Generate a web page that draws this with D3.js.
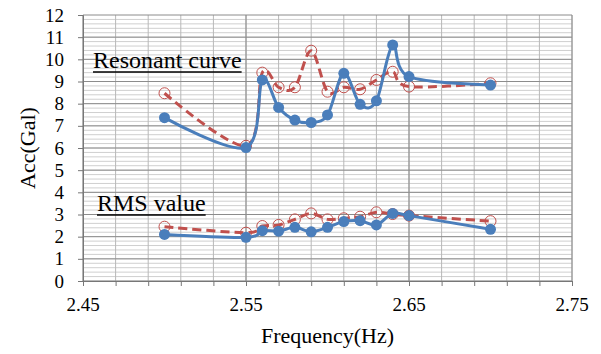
<!DOCTYPE html>
<html>
<head>
<meta charset="utf-8">
<script src="https://cdn.jsdelivr.net/npm/d3@7"></script>
<style>
  body { margin: 0; background: #fff; }
  svg, svg text { font-family: 'Liberation Serif', 'Times New Roman', Times, serif !important; }
</style>
</head>
<body>
<script>
const freq = [2.50, 2.55, 2.56, 2.57, 2.58, 2.59, 2.60, 2.61, 2.62, 2.63, 2.64, 2.65, 2.70];
const resonantA = [7.37, 6.02, 9.07, 7.83, 7.26, 7.15, 7.49, 9.37, 7.97, 8.13, 10.65, 9.22, 8.84];
const resonantB = [8.47, 6.1, 9.4, 8.74, 8.74, 10.39, 8.54, 8.74, 8.65, 9.07, 9.44, 8.77, 8.92];
const rmsA = [2.1, 1.97, 2.27, 2.25, 2.42, 2.22, 2.42, 2.68, 2.72, 2.53, 3.05, 2.95, 2.33];
const rmsB = [2.45, 2.18, 2.48, 2.53, 2.78, 3.05, 2.78, 2.83, 2.9, 3.1, 3.02, 2.95, 2.7];
const xTicks = [2.45, 2.55, 2.65, 2.75];
const yTicks = d3.range(0, 13);

const width = 601, height = 354;
const margin = { left: 83, right: 29, top: 15, bottom: 73 };
const blue = "#4a7ebb";
const red = "#c0504d";

const svg = d3.select("body").append("svg")
  .attr("width", width)
  .attr("height", height);

const x = d3.scaleLinear().domain([2.45, 2.75]).range([margin.left, width - margin.right]);
const y = d3.scaleLinear().domain([0, 12]).range([height - margin.bottom, margin.top]);

// gridlines: minor first, then major
const grid = svg.append("g");
grid.selectAll(".hmin")
  .data(d3.range(0, 60).map(i => i * 0.2))
  .join("line")
  .attr("x1", x.range()[0]).attr("x2", x.range()[1])
  .attr("y1", d => y(d)).attr("y2", d => y(d))
  .attr("stroke", "#cfcfcf").attr("stroke-width", 1);
grid.selectAll(".vmin")
  .data(d3.range(0, 16).map(i => 2.45 + i * 0.02))
  .join("line")
  .attr("x1", d => x(d)).attr("x2", d => x(d))
  .attr("y1", y(0)).attr("y2", y(12))
  .attr("stroke", "#b8b8b8").attr("stroke-width", 1);
grid.selectAll(".hmaj")
  .data(yTicks)
  .join("line")
  .attr("x1", x.range()[0]).attr("x2", x.range()[1])
  .attr("y1", d => y(d)).attr("y2", d => y(d))
  .attr("stroke", "#8c8c8c").attr("stroke-width", 1);
grid.selectAll(".vmaj")
  .data(xTicks)
  .join("line")
  .attr("x1", d => x(d)).attr("x2", d => x(d))
  .attr("y1", y(0)).attr("y2", y(12))
  .attr("stroke", "#8c8c8c").attr("stroke-width", 1);

// axes
const xAxis = svg.append("g")
  .attr("transform", `translate(0,${y(0)})`)
  .call(d3.axisBottom(x).tickValues(d3.range(0, 16).map(i => 2.45 + i * 0.02)).tickSize(5).tickFormat(""));
xAxis.selectAll("line, path").attr("stroke", "#777");

svg.append("g")
  .selectAll("text")
  .data(xTicks)
  .join("text")
  .attr("x", d => x(d))
  .attr("y", y(0) + 30)
  .attr("text-anchor", "middle")
  .attr("font-size", 19)
  .text(d3.format(".2f"));

const yAxis = svg.append("g")
  .attr("transform", `translate(${margin.left},0)`)
  .call(d3.axisLeft(y).tickValues(yTicks).tickSize(5).tickPadding(14).tickFormat(d3.format("d")));
yAxis.attr("font-size", 19);
yAxis.selectAll("line, path").attr("stroke", "#777");
yAxis.selectAll("text").attr("fill", "#000");

// axis titles
svg.append("text")
  .attr("x", (x.range()[0] + x.range()[1]) / 2)
  .attr("y", 343)
  .attr("text-anchor", "middle")
  .attr("font-size", 22)
  .text("Frequency(Hz)");

svg.append("text")
  .attr("transform", `translate(35,${(y(0) + y(12)) / 2}) rotate(-90)`)
  .attr("text-anchor", "middle")
  .attr("font-size", 22)
  .text("Acc(Gal)");

// series
const line = (vals) => d3.line()
  .x((d, i) => x(freq[i]))
  .y(d => y(d))
  .curve(d3.curveCardinal.tension(0))(vals);

const drawRed = (vals) => {
  svg.append("path")
    .attr("d", line(vals))
    .attr("fill", "none")
    .attr("stroke", red)
    .attr("stroke-width", 3)
    .attr("stroke-dasharray", "9,5");
  svg.append("g").selectAll("circle")
    .data(vals)
    .join("circle")
    .attr("cx", (d, i) => x(freq[i]))
    .attr("cy", d => y(d))
    .attr("r", 5.5)
    .attr("fill", "none")
    .attr("stroke", red)
    .attr("stroke-width", 1);
};

const drawBlue = (vals) => {
  svg.append("path")
    .attr("d", line(vals))
    .attr("fill", "none")
    .attr("stroke", blue)
    .attr("stroke-width", 3);
  svg.append("g").selectAll("circle")
    .data(vals)
    .join("circle")
    .attr("cx", (d, i) => x(freq[i]))
    .attr("cy", d => y(d))
    .attr("r", 5.5)
    .attr("fill", blue);
};

drawRed(resonantB);
drawBlue(resonantA);
drawRed(rmsB);
drawBlue(rmsA);

// annotations
const note = (label, px, py) => {
  const t = svg.append("text")
    .attr("x", px)
    .attr("y", py)
    .attr("font-size", 24)
    .text(label);
  const w = t.node().getComputedTextLength();
  svg.append("line")
    .attr("x1", px).attr("x2", px + w)
    .attr("y1", py + 4).attr("y2", py + 4)
    .attr("stroke", "#000").attr("stroke-width", 1.5);
};
note("Resonant curve", 93, 68);
note("RMS value", 97, 211);
</script>
</body>
</html>
